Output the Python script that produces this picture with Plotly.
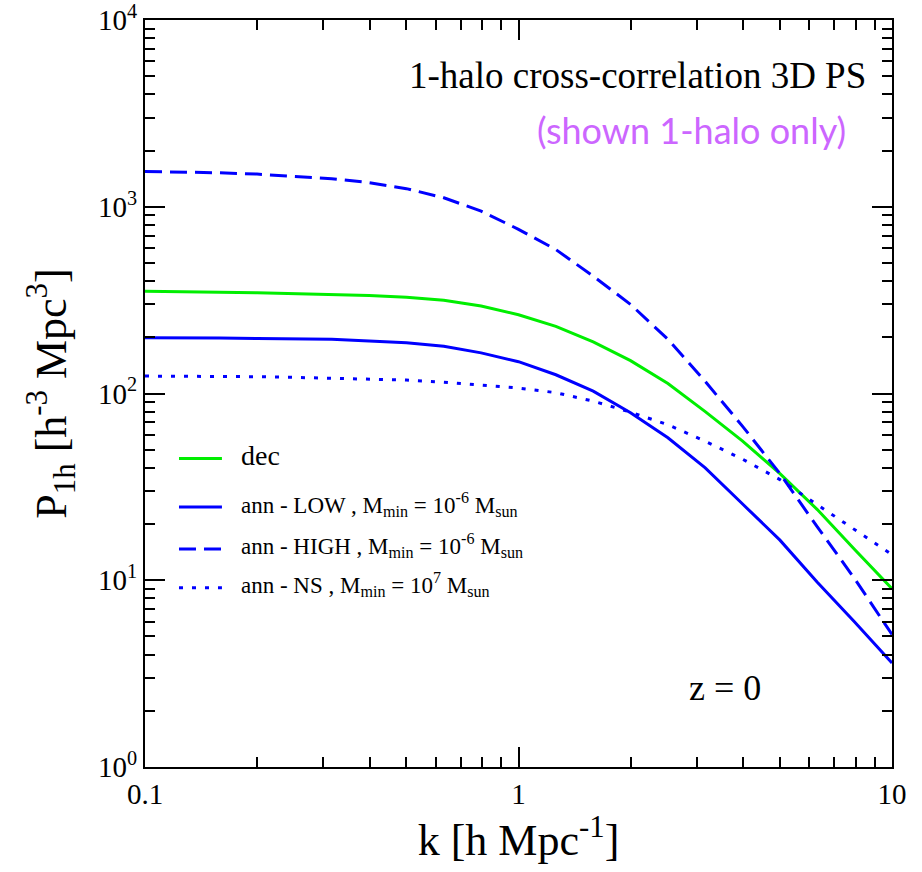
import plotly.graph_objects as go

# ---- data ----
k = [0.1, 0.1259, 0.1585, 0.1995, 0.2512, 0.3162, 0.3981, 0.5012, 0.631, 0.7943,
     1.0, 1.259, 1.585, 1.995, 2.512, 3.162, 3.981, 5.012, 6.31, 7.943, 10.0]
p_dec = [353, 352, 349, 346, 343, 341, 335, 328, 316, 294,
         264, 229, 189, 150, 113, 80, 55.6, 37.2, 23.9, 14.6, 9.0]
p_low = [199, 199, 198, 197, 196, 195, 191, 187, 179, 165,
         148, 126, 103, 78.8, 57.9, 40.0, 25.6, 16.4, 9.76, 5.98, 3.61]
p_high = [1545, 1539, 1520, 1496, 1459, 1413, 1346, 1250, 1117, 948,
          757, 590, 425, 300, 195, 116, 66.7, 37.2, 19.3, 10.2, 5.12]
p_ns = [124, 124, 123, 123, 122, 121, 120, 118, 115, 111,
        107, 101, 91, 79.5, 68, 55.5, 44.5, 34.6, 25.4, 18.7, 13.7]

series_names = ["dec",
                "ann - LOW , M<sub>min</sub> = 10<sup>-6</sup> M<sub>sun</sub>",
                "ann - HIGH , M<sub>min</sub> = 10<sup>-6</sup> M<sub>sun</sub>",
                "ann - NS , M<sub>min</sub> = 10<sup>7</sup> M<sub>sun</sub>"]
series_vals = [p_dec, p_low, p_high, p_ns]
series_colors = ["#00ee00", "#0000ff", "#0000ff", "#0000ff"]
series_dash = ["solid", "solid", "17px,8px", "4px,9px"]

y_tickvals = [1, 10, 100, 1000, 10000]
y_ticktext = ["10<sup>0</sup>", "10<sup>1</sup>", "10<sup>2</sup>", "10<sup>3</sup>", "10<sup>4</sup>"]
x_tickvals = [0.1, 1, 10]
x_ticktext = ["0.1", "1", "10"]

SERIF = "Liberation Serif, Times New Roman, serif"

fig = go.Figure()
for name, vals, col, dash in zip(series_names, series_vals, series_colors, series_dash):
    fig.add_trace(go.Scatter(x=k, y=vals, mode="lines", name=name,
                             line=dict(color=col, width=3, dash=dash),
                             showlegend=False))

tick_font = dict(family=SERIF, size=29, color="black")


def axis_style():
    return dict(
        type="log", ticks="inside", ticklen=20, tickwidth=1.5, tickcolor="black",
        showline=True, linewidth=2, linecolor="black", mirror="allticks",
        showgrid=False, zeroline=False, ticklabeloverflow="allow", automargin=False,
        minor=dict(ticks="inside", ticklen=10, tickwidth=1.5, tickcolor="black",
                   dtick="D1", showgrid=False),
        tickfont=tick_font,
    )


fig.update_layout(
    xaxis=dict(**axis_style(), range=[-1, 1], tickmode="array",
               tickvals=x_tickvals, ticktext=x_ticktext,
               title=dict(text="k [h Mpc<sup>-1</sup>]",
                          font=dict(family=SERIF, size=44, color="black"),
                          standoff=6)),
    yaxis=dict(**axis_style(), range=[0, 4], tickmode="array",
               tickvals=y_tickvals, ticktext=y_ticktext,
               title=dict(text="P<sub>1h</sub> [h<sup>-3</sup> Mpc<sup>3</sup>]",
                          font=dict(family=SERIF, size=44, color="black"),
                          standoff=18)),
)

# manual legend (paper coords)
leg_rows = [0.417, 0.352, 0.296, 0.244]
leg_sizes = [28, 23, 23, 23]
for yr, name, col, dash, fs in zip(leg_rows, series_names, series_colors, series_dash, leg_sizes):
    fig.add_shape(type="line", xref="paper", yref="paper",
                  x0=0.0455, x1=0.103, y0=yr - 0.004, y1=yr - 0.004,
                  line=dict(color=col, width=3, dash=dash))
    fig.add_annotation(xref="paper", yref="paper", x=0.126, y=yr,
                       xanchor="left", yanchor="middle", showarrow=False,
                       text=name, font=dict(family=SERIF, size=fs, color="black"))

fig.add_annotation(xref="paper", yref="paper", x=0.968, y=0.926,
                   xanchor="right", yanchor="middle", showarrow=False,
                   text="1-halo cross-correlation 3D PS",
                   font=dict(family=SERIF, size=37, color="black"))
fig.add_annotation(xref="paper", yref="paper", x=0.941, y=0.853,
                   xanchor="right", yanchor="middle", showarrow=False,
                   text="(shown 1-halo only)",
                   font=dict(family="Lato", size=36, color="#cc66ff"))
fig.add_annotation(xref="paper", yref="paper", x=0.776, y=0.106,
                   xanchor="center", yanchor="middle", showarrow=False,
                   text="z = 0",
                   font=dict(family=SERIF, size=36, color="black"))

fig.update_layout(width=922, height=872,
                  font=dict(family=SERIF, color="black"),
                  margin=dict(l=145, r=30, t=20, b=105),
                  paper_bgcolor="white", plot_bgcolor="white")

fig.write_html("out.html")
